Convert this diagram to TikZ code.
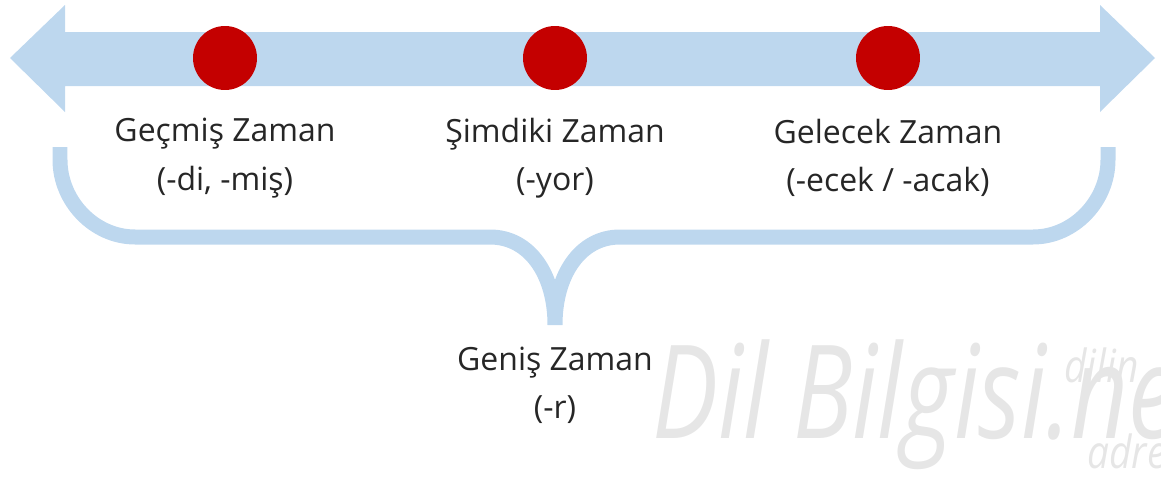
\documentclass[tikz,border=0pt]{standalone}
\usepackage{fontspec}
\setmainfont{Open Sans}
\usetikzlibrary{positioning}
\definecolor{timeblue}{RGB}{189,215,238}
\definecolor{dotred}{RGB}{196,0,0}
\definecolor{markgray}{RGB}{230,230,230}
\definecolor{labeltext}{RGB}{38,38,38}
\tikzset{
  tensedot/.style={circle,fill=dotred,draw=none,minimum size=1.28cm,inner sep=0pt},
  tenselabel/.style={font=\fontsize{18.2}{27.5}\selectfont,text=labeltext,align=center,inner sep=0pt},
  markfont/.style={text=markgray,inner sep=0pt}
}
\begin{document}
\begin{tikzpicture}[x=0.02cm,y=-0.02cm]
\useasboundingbox (0,0) rectangle (1161,480);

% watermark
\begin{scope}
\clip (0,0) rectangle (1161,480);
\node[markfont,font=\fontsize{74}{74}\selectfont\itshape,anchor=base west,xscale=0.76] (mark) at (652,438) {Dil Bilgisi.net};
\node[markfont,font=\fontsize{26}{26}\selectfont\itshape,anchor=base west,xscale=0.85] (markTop) at (1064,382) {dilin};
\node[markfont,font=\fontsize{26}{26}\selectfont\itshape,anchor=base west,xscale=0.85] (markBottom) at (1087,468) {adresi};
\end{scope}

% time line
\fill[timeblue] (10,58) -- (65,5) -- (65,32) -- (1100,32) -- (1100,5) -- (1155,58) -- (1100,112) -- (1100,86) -- (65,86) -- (65,112) -- cycle;

\node[tensedot] (past) at (225,58) {};
\node[tensedot] (present) at (555,58) {};
\node[tensedot] (future) at (888,58) {};

\node[tenselabel] (pastText) at (225,158) {Geçmiş Zaman\\(-di, -miş)};
\node[tenselabel] (presentText) at (555,158) {Şimdiki Zaman\\(-yor)};
\node[tenselabel] (futureText) at (888,158) {Gelecek Zaman\\(-ecek / -acak)};

% brace
\draw[timeblue,line width=0.3cm] (60,147) -- (60,160) .. controls (60,201) and (94,237) .. (135,237) -- (490,237)
  .. controls (530,237) and (555,275) .. (555,325) .. controls (555,275) and (580,237) .. (620,237)
  -- (1033,237) .. controls (1074,237) and (1108,201) .. (1108,160) -- (1108,147);

\node[tenselabel] (broadText) at (555,385) {Geniş Zaman\\(-r)};

\end{tikzpicture}
\end{document}
